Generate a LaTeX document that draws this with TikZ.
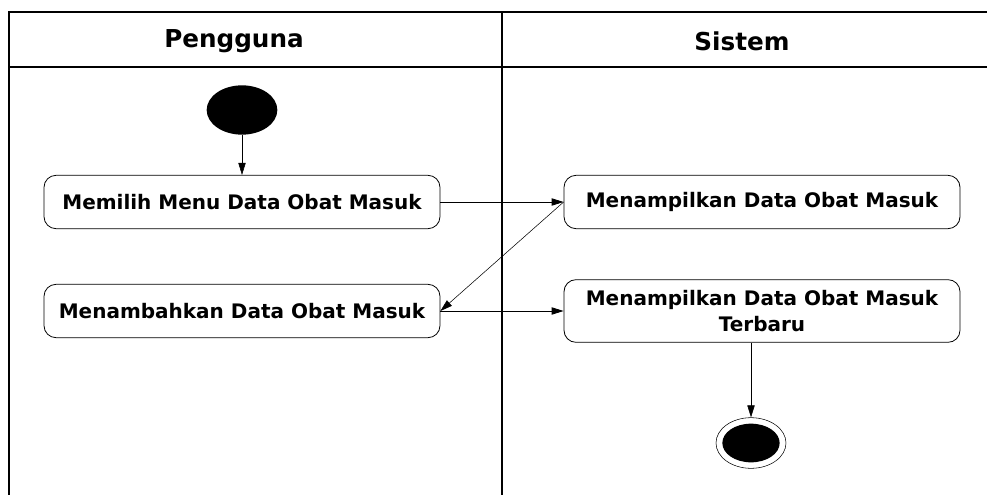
\documentclass[tikz,border=0pt]{standalone}
\usepackage{fontspec}
\setmainfont{DejaVu Sans}
\usetikzlibrary{arrows.meta,shapes.geometric}

\begin{document}
\begin{tikzpicture}[x=0.75pt,y=-0.75pt,->,>={Triangle[length=9pt,width=5.5pt]},
                    semithick]
  \tikzstyle{activity}=[draw,rounded corners=9pt,minimum width=297pt,
                        minimum height=40pt,align=center,inner sep=2pt,
                        font=\bfseries\fontsize{15}{19}\selectfont]
  \tikzstyle{lane}=[font=\bfseries\fontsize{18.5}{20}\selectfont]
  \useasboundingbox (0,0) rectangle (987,495);

  % swimlanes
  \draw[-,line width=1.1pt] (9,495) -- (9,12) -- (987,12);
  \draw[-,line width=1.8pt] (9,67) -- (987,67);
  \draw[-,line width=1.8pt] (502,12) -- (502,495);
  \node[lane] (pengguna) at (234,41) {Pengguna};
  \node[lane] (sistem)   at (742,41) {Sistem};

  % activities
  \node[ellipse,fill,inner sep=0pt,minimum width=53pt,minimum height=37pt]
        (start) at (242,110) {};
  \node[activity] (pilih)    at (242,202) {Memilih Menu Data Obat Masuk};
  \node[activity] (tambah)   at (242,311) {Menambahkan Data Obat Masuk};
  \node[activity] (tampil)   at (762,202) {Menampilkan Data Obat Masuk};
  \node[activity,minimum height=47pt]
        (terbaru) at (762,311) {Menampilkan Data Obat Masuk\\Terbaru};
  \node[ellipse,draw,thin,inner sep=0pt,minimum width=52.5pt,minimum height=38pt]
        (final) at (751,443) {};
  \node[ellipse,fill,inner sep=0pt,minimum width=43pt,minimum height=29pt]
        (finaldot) at (final) {};

  \path (start)   edge [thin] (pilih)
        (pilih)   edge (tampil)
        (tampil.west) edge [thin] (tambah.east)
        (tambah)  edge (terbaru);
  \draw[thin] (final.north |- terbaru.south) -- (final);

\end{tikzpicture}
\end{document}
